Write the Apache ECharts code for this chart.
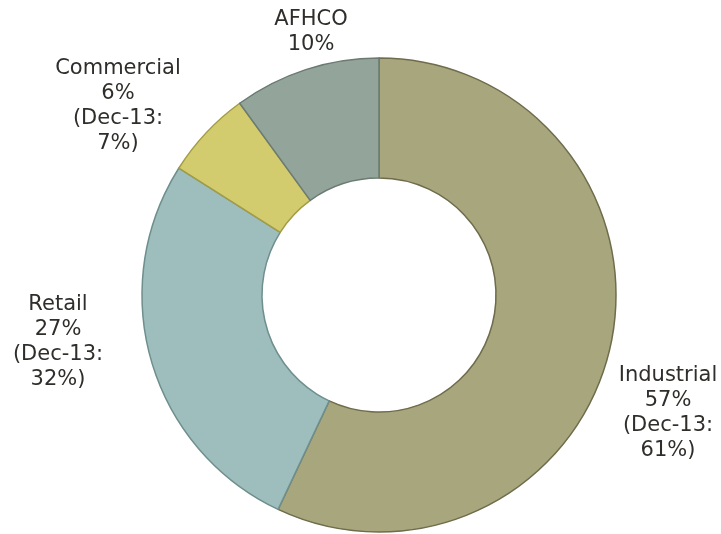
<!DOCTYPE html>
<html>
<head>
<meta charset="utf-8">
<script src="https://cdn.jsdelivr.net/npm/echarts@6/dist/echarts.min.js"></script>
<style>
  html, body { margin: 0; padding: 0; background: #ffffff; }
  #chart { width: 721px; height: 534px; }
</style>
</head>
<body>
<div id="chart"></div>
<script>
// Portfolio split by sector
const categories = ['Industrial', 'Retail', 'Commercial', 'AFHCO'];
const shares = [57, 27, 6, 10];
const priorShares = [61, 32, 7, null]; // Dec-13 comparison
const fills = ['#A8A67C', '#9DBEBC', '#D3CC6E', '#93A49A'];
const borders = ['#6E6C4C', '#6E8F8D', '#A39C45', '#6B7B73'];

// label anchor points (centre of each text block)
const labelPos = [[668, 413], [58, 342], [118, 106], [311, 32]];

const chart = echarts.init(document.getElementById('chart'));

chart.setOption({
  animation: false,
  series: [{
    type: 'pie',
    center: [379, 295],
    radius: [117, 237],
    startAngle: 90,
    clockwise: true,
    data: categories.map((name, i) => ({
      name,
      value: shares[i],
      itemStyle: { color: fills[i], borderColor: borders[i], borderWidth: 1.5 }
    })),
    label: {
      show: true,
      position: 'outside',
      fontFamily: 'DejaVu Sans',
      fontSize: 21,
      lineHeight: 25,
      color: '#302E2B',
      align: 'center',
      overflow: 'none',
      width: 200,
      formatter: p => {
        const prior = priorShares[p.dataIndex];
        return prior == null
          ? `${p.name}\n${p.value}%`
          : `${p.name}\n${p.value}%\n(Dec-13:\n${prior}%)`;
      }
    },
    labelLine: { show: false },
    labelLayout: params => ({
      x: labelPos[params.dataIndex][0],
      y: labelPos[params.dataIndex][1],
      align: 'center',
      verticalAlign: 'middle'
    }),
    emphasis: { disabled: true }
  }]
});
</script>
</body>
</html>
